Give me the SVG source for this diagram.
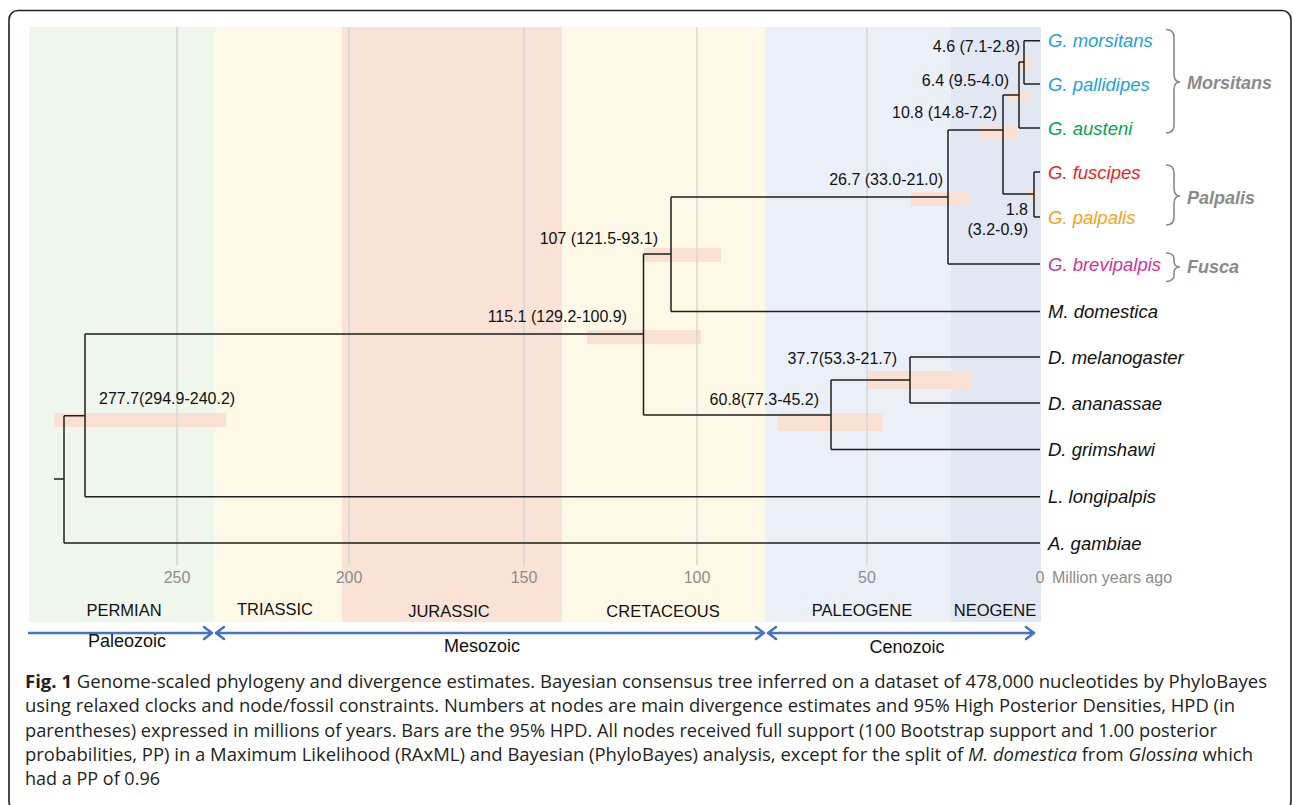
<svg xmlns="http://www.w3.org/2000/svg" width="1293" height="805" viewBox="0 0 1293 805">
<style>
.grid{stroke:#D6D6D6;stroke-width:1.5;fill:none}
.hpd{fill:#FAE0D2}
.br{stroke:#1E1E1E;stroke-width:1.5;fill:none}
.nl{font-family:"Liberation Sans",Arial,sans-serif;font-size:16px;fill:#111}
.leaf{font-family:"Liberation Sans",Arial,sans-serif;font-size:18.5px;font-style:italic;fill:#111}
.clade{font-family:"Liberation Sans",Arial,sans-serif;font-size:18px;font-style:italic;font-weight:bold;fill:#8A8A8A}
.brace{stroke:#8A8A8A;stroke-width:1.6;fill:none}
.ax{font-family:"Liberation Sans",Arial,sans-serif;font-size:16px;fill:#8C8C8C}
.per{font-family:"Liberation Sans",Arial,sans-serif;font-size:16.5px;fill:#111;text-anchor:middle}
.era{font-family:"Liberation Sans",Arial,sans-serif;font-size:18px;fill:#111;text-anchor:middle}
.arr{stroke:#4472C4;stroke-width:2.5;fill:none;stroke-linecap:round;stroke-linejoin:round}
.cap{font-family:"Open Sans","Liberation Sans",sans-serif;font-size:17.5px;fill:#231F20}
</style>
<rect x="0" y="0" width="1293" height="805" fill="#FFFFFF"/>
<rect x="9" y="10.5" width="1282" height="800" rx="9" fill="none" stroke="#222" stroke-width="1.6"/>
<g id="bands">
<rect x="29" y="27" width="186" height="595" fill="#EFF6EC"/>
<rect x="215" y="27" width="127" height="595" fill="#FEF8E7"/>
<rect x="342" y="27" width="220" height="595" fill="#FAE3D6"/>
<rect x="562" y="27" width="203" height="595" fill="#FEF8E7"/>
<rect x="765" y="27" width="186" height="595" fill="#EBF0F8"/>
<rect x="951" y="27" width="90" height="595" fill="#E1E8F4"/>
</g>
<g id="hpd-bars">
<rect class="hpd" x="54" y="413" width="172" height="14"/>
<rect class="hpd" x="587" y="330" width="114" height="14"/>
<rect class="hpd" x="644" y="248" width="77" height="14"/>
<rect class="hpd" x="911" y="192" width="58" height="14"/>
<rect class="hpd" x="778" y="413" width="105" height="18"/>
<rect class="hpd" x="867" y="371" width="104" height="18"/>
<rect class="hpd" x="979" y="125" width="38" height="14"/>
<rect class="hpd" x="1008" y="91" width="22" height="11"/>
<rect class="hpd" x="1018" y="58" width="14" height="11"/>
<rect class="hpd" x="1027" y="189" width="10" height="11"/>
</g>
<g id="gridlines">
<path class="grid" d="M177,27 V565 M349,27 V565 M524,27 V565 M697,27 V565 M867,27 V565"/>
</g>
<g id="connectors">
<path class="br" d="M54,479 H64 M64,415.7 V543 M64,543 H1040 M64,415.7 H85 M85,334 V496.7 M85,496.7 H1040 M85,334 H643.5 M643.5,254 V415 M643.5,254 H671 M671,197 V311.5 M671,311.5 H1040 M671,197 H948 M948,130 V264 M948,264 H1040 M948,130 H1003 M1003,95 V194 M1003,194 H1034 M1034,172 V217 M1034,172 H1040 M1034,217 H1040 M1003,95 H1019 M1019,62 V128 M1019,128 H1040 M1019,62 H1024 M1024,40.7 V84 M1024,40.7 H1040 M1024,84 H1040 M643.5,415 H831 M831,380 V449.5 M831,449.5 H1040 M831,380 H910 M910,357 V403 M910,357 H1040 M910,403 H1040"/>
</g>
<g id="node-labels">
<text class="nl" x="1020" y="52" text-anchor="end">4.6 (7.1-2.8)</text>
<text class="nl" x="1009" y="86" text-anchor="end">6.4 (9.5-4.0)</text>
<text class="nl" x="997" y="118" text-anchor="end">10.8 (14.8-7.2)</text>
<text class="nl" x="943" y="185" text-anchor="end">26.7 (33.0-21.0)</text>
<text class="nl" x="1028" y="215" text-anchor="end">1.8</text>
<text class="nl" x="1028" y="235" text-anchor="end">(3.2-0.9)</text>
<text class="nl" x="658" y="244" text-anchor="end">107 (121.5-93.1)</text>
<text class="nl" x="627" y="322" text-anchor="end">115.1 (129.2-100.9)</text>
<text class="nl" x="897" y="364" text-anchor="end">37.7(53.3-21.7)</text>
<text class="nl" x="819" y="405" text-anchor="end">60.8(77.3-45.2)</text>
<text class="nl" x="99" y="404">277.7(294.9-240.2)</text>
</g>
<g id="leaf-morsitans"><text class="leaf" x="1048" y="47" style="fill:#1BA1E2">G. morsitans</text></g>
<g id="leaf-pallidipes"><text class="leaf" x="1048" y="90.5" style="fill:#1BA1E2">G. pallidipes</text></g>
<g id="leaf-austeni"><text class="leaf" x="1048" y="134.5" style="fill:#00A650">G. austeni</text></g>
<g id="leaf-fuscipes"><text class="leaf" x="1048" y="178.5" style="fill:#EE1C25">G. fuscipes</text></g>
<g id="leaf-palpalis"><text class="leaf" x="1048" y="223.5" style="fill:#F7A21B">G. palpalis</text></g>
<g id="leaf-brevipalpis"><text class="leaf" x="1048" y="270.5" style="fill:#D3329C">G. brevipalpis</text></g>
<g id="leaf-domestica"><text class="leaf" x="1048" y="318">M. domestica</text></g>
<g id="leaf-melanogaster"><text class="leaf" x="1048" y="363.5">D. melanogaster</text></g>
<g id="leaf-ananassae"><text class="leaf" x="1048" y="409.5">D. ananassae</text></g>
<g id="leaf-grimshawi"><text class="leaf" x="1048" y="456">D. grimshawi</text></g>
<g id="leaf-longipalpis"><text class="leaf" x="1048" y="503">L. longipalpis</text></g>
<g id="leaf-gambiae"><text class="leaf" x="1048" y="549.5">A. gambiae</text></g>
<g id="clade-morsitans">
<path class="brace" d="M1166,29.5 Q1174,29.5 1174,37.5 V74 Q1174,82 1180,82 Q1174,82 1174,90 V125 Q1174,133 1166,133"/>
<text class="clade" x="1187" y="89">Morsitans</text>
</g>
<g id="clade-palpalis">
<path class="brace" d="M1166,165 Q1174,165 1174,173 V188 Q1174,196 1180,196 Q1174,196 1174,204 V217 Q1174,225 1166,225"/>
<text class="clade" x="1187" y="204">Palpalis</text>
</g>
<g id="clade-fusca">
<path class="brace" d="M1166,253 Q1174,253 1174,259 V261 Q1174,267 1180,267 Q1174,267 1174,273 V275 Q1174,281.5 1166,281.5"/>
<text class="clade" x="1187" y="273">Fusca</text>
</g>
<g id="axis">
<text class="ax" x="177" y="583" text-anchor="middle">250</text>
<text class="ax" x="349" y="583" text-anchor="middle">200</text>
<text class="ax" x="524" y="583" text-anchor="middle">150</text>
<text class="ax" x="697" y="583" text-anchor="middle">100</text>
<text class="ax" x="867" y="583" text-anchor="middle">50</text>
<text class="ax" x="1040" y="583" text-anchor="middle">0</text>
<text class="ax" x="1052" y="583">Million years ago</text>
</g>
<g id="periods">
<text class="per" x="124" y="616">PERMIAN</text>
<text class="per" x="275" y="615">TRIASSIC</text>
<text class="per" x="449" y="617">JURASSIC</text>
<text class="per" x="663" y="617">CRETACEOUS</text>
<text class="per" x="862" y="616">PALEOGENE</text>
<text class="per" x="995" y="616">NEOGENE</text>
</g>
<g id="eras">
<path class="arr" d="M29,633 H212 M204,627 L212,633 L204,639"/>
<path class="arr" d="M216,633 H764 M224,627 L216,633 L224,639 M756,627 L764,633 L756,639"/>
<path class="arr" d="M768,633 H1034 M776,627 L768,633 L776,639 M1026,627 L1034,633 L1026,639"/>
<text class="era" x="127" y="647">Paleozoic</text>
<text class="era" x="482" y="652">Mesozoic</text>
<text class="era" x="907" y="653">Cenozoic</text>
</g>
<g id="caption">
<text class="cap" x="25" y="688" textLength="1242" lengthAdjust="spacingAndGlyphs"><tspan font-weight="bold">Fig. 1</tspan> Genome-scaled phylogeny and divergence estimates. Bayesian consensus tree inferred on a dataset of 478,000 nucleotides by PhyloBayes</text>
<text class="cap" x="25" y="712" textLength="1210" lengthAdjust="spacingAndGlyphs">using relaxed clocks and node/fossil constraints. Numbers at nodes are main divergence estimates and 95% High Posterior Densities, HPD (in</text>
<text class="cap" x="25" y="737" textLength="1192" lengthAdjust="spacingAndGlyphs">parentheses) expressed in millions of years. Bars are the 95% HPD. All nodes received full support (100 Bootstrap support and 1.00 posterior</text>
<text class="cap" x="25" y="761" textLength="1228" lengthAdjust="spacingAndGlyphs">probabilities, PP) in a Maximum Likelihood (RAxML) and Bayesian (PhyloBayes) analysis, except for the split of <tspan font-style="italic">M. domestica</tspan> from <tspan font-style="italic">Glossina</tspan> which</text>
<text class="cap" x="25" y="785" textLength="135" lengthAdjust="spacingAndGlyphs">had a PP of 0.96</text>
</g>
</svg>
